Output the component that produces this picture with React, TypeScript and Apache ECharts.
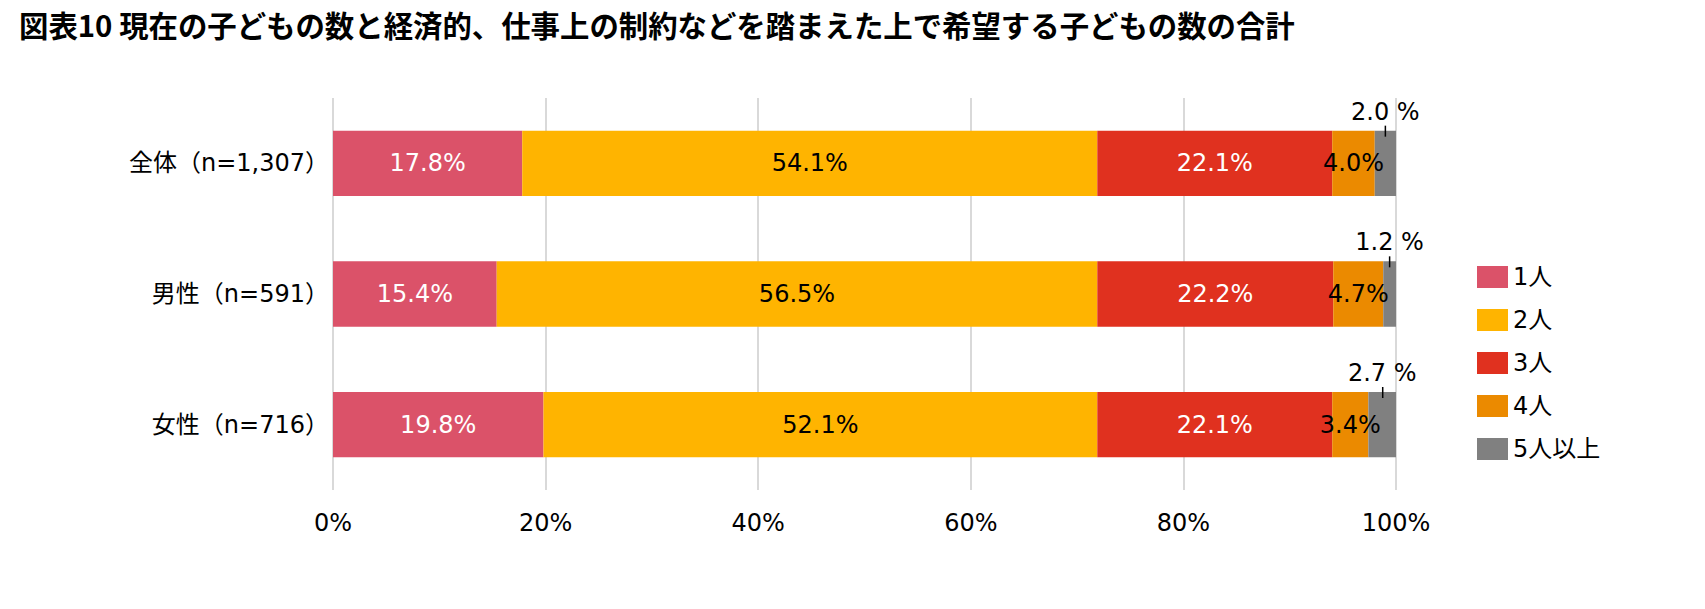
import React, { useEffect, useRef } from "react";
import * as echarts from "echarts";

const categories = ["全体（n=1,307）", "男性（n=591）", "女性（n=716）"];
const seriesNames = ["1人", "2人", "3人", "4人", "5人以上"];
const oneChild = [17.8, 15.4, 19.8];
const twoChildren = [54.1, 56.5, 52.1];
const threeChildren = [22.1, 22.2, 22.1];
const fourChildren = [4.0, 4.7, 3.4];
const fiveOrMore = [2.0, 1.2, 2.7];
const xTickValues = [0, 20, 40, 60, 80, 100];
const titleText =
  "図表10 現在の子どもの数と経済的、仕事上の制約などを踏まえた上で希望する子どもの数の合計";

const FONT = "'DejaVu Sans', 'Noto Sans CJK JP', sans-serif";
const colors = ["#DB5269", "#FFB400", "#E0311F", "#EB8A00", "#808080"];
const labelColors = ["#FFFFFF", "#000000", "#FFFFFF", "#000000"];

export default function App() {
  const ref = useRef<HTMLDivElement>(null);

  useEffect(() => {
    if (!ref.current) return;
    const chart = echarts.init(ref.current, null, { renderer: "svg" });
    const values = [oneChild, twoChildren, threeChildren, fourChildren, fiveOrMore];

    const barSeries: any[] = values.map((vals, i) => {
      const isLast = i === values.length - 1;
      return {
        name: seriesNames[i],
        type: "bar",
        stack: "total",
        barCategoryGap: "50%",
        data: vals,
        itemStyle: { color: colors[i] },
        label: isLast
          ? {
              show: true,
              position: "top",
              distance: 7,
              color: "#000",
              fontSize: 24,
              fontFamily: FONT,
              formatter: (p: any) => p.value.toFixed(1) + " %",
            }
          : {
              show: true,
              position: "inside",
              color: labelColors[i],
              fontSize: 24,
              fontFamily: FONT,
              formatter: (p: any) => p.value.toFixed(1) + "%",
            },
      };
    });

    const tickData = fiveOrMore.map((v, idx) => {
      const before =
        oneChild[idx] + twoChildren[idx] + threeChildren[idx] + fourChildren[idx];
      return [before + v / 2, idx];
    });

    const tickSeries = {
      type: "custom",
      name: "tick",
      silent: true,
      z: 10,
      encode: { x: 0, y: 1 },
      data: tickData,
      renderItem: (params: any, api: any) => {
        const pt = api.coord([api.value(0), api.value(1)]);
        const size = api.size([0, 1]);
        const h = size[1] * 0.5;
        const top = pt[1] - h / 2;
        return {
          type: "line",
          shape: { x1: pt[0], y1: top - 5, x2: pt[0], y2: top + 6 },
          style: { stroke: "#000", lineWidth: 1.5 },
        };
      },
    };

    chart.setOption({
      animation: false,
      backgroundColor: "#ffffff",
      title: {
        text: titleText,
        left: 19,
        top: 9,
        padding: 0,
        textStyle: {
          fontSize: 29.4,
          fontWeight: "bold",
          color: "#000",
          fontFamily: "'Noto Sans CJK JP', 'DejaVu Sans', sans-serif",
        },
      },
      legend: {
        data: seriesNames,
        orient: "vertical",
        left: 1472,
        top: 260,
        itemWidth: 31,
        itemHeight: 22,
        itemGap: 19,
        icon: "rect",
        textStyle: { fontSize: 24, color: "#000", fontFamily: FONT },
      },
      grid: { left: 333, right: 309, top: 98, bottom: 119, containLabel: false },
      xAxis: {
        type: "value",
        min: xTickValues[0],
        max: xTickValues[xTickValues.length - 1],
        interval: xTickValues[1] - xTickValues[0],
        axisLine: { show: false },
        axisTick: { show: false },
        splitLine: { show: true, lineStyle: { color: "#D9D9D9", width: 2 } },
        axisLabel: {
          fontSize: 24,
          color: "#000",
          fontFamily: FONT,
          margin: 21,
          formatter: "{value}%",
        },
      },
      yAxis: {
        type: "category",
        inverse: true,
        data: categories,
        axisLine: { show: false },
        axisTick: { show: false },
        axisLabel: { fontSize: 24, color: "#000", fontFamily: FONT, margin: 4 },
      },
      series: [...barSeries, tickSeries],
    });

    return () => chart.dispose();
  }, []);

  return (
    <div
      ref={ref}
      style={{ position: "fixed", left: 0, top: 0, width: 1705, height: 609, background: "#fff" }}
    />
  );
}
